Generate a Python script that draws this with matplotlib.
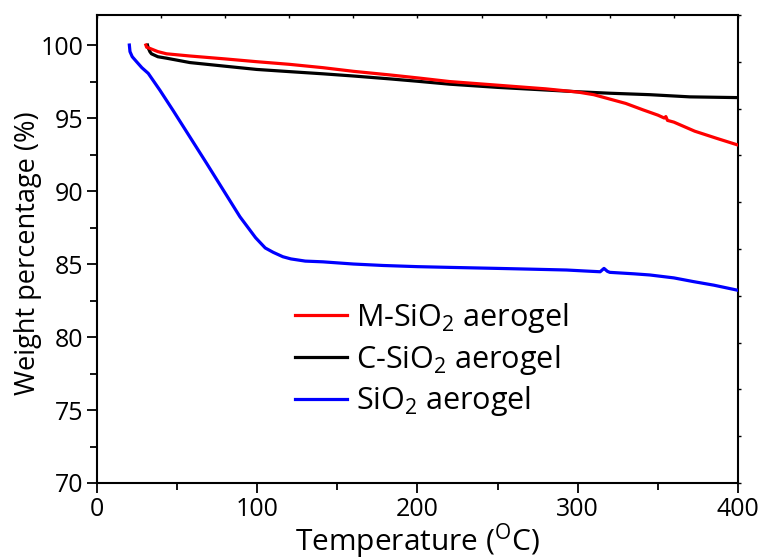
import matplotlib
matplotlib.use("Agg")
import matplotlib.pyplot as plt
from matplotlib import font_manager as fm
import numpy as np

avail = {f.name for f in fm.fontManager.ttflist}
fam = next((f for f in ["Liberation Sans Narrow", "Open Sans", "Lato", "DejaVu Sans"] if f in avail), "DejaVu Sans")
plt.rcParams['font.family'] = [fam, 'DejaVu Sans']
plt.rcParams['mathtext.fontset'] = 'custom'
plt.rcParams['mathtext.rm'] = fam
plt.rcParams['mathtext.it'] = fam
plt.rcParams['mathtext.bf'] = fam

# SiO2 aerogel (blue)
t_sio2 = [20.2, 20.6, 22, 24.7, 28, 32, 39.3, 47.6, 58, 68.4, 78.8, 89.2, 99, 105, 110, 116, 121,
          130, 141, 160, 178.6, 200, 220, 250, 270, 293, 305, 314, 316.4, 318.5, 320, 335, 345,
          360, 372, 385, 400]
w_sio2 = [100.0, 99.55, 99.2, 98.86, 98.45, 98.06, 96.9, 95.5, 93.7, 91.9, 90.07, 88.24, 86.8,
          86.1, 85.8, 85.5, 85.35, 85.2, 85.15, 85.0, 84.9, 84.82, 84.77, 84.7, 84.65, 84.59,
          84.52, 84.47, 84.7, 84.5, 84.43, 84.33, 84.25, 84.05, 83.8, 83.55, 83.2]

# M-SiO2 aerogel (red)
t_m = [30.5, 31, 33, 38, 43.4, 58, 80, 99.6, 120, 141, 160, 183, 200, 220, 250, 280, 300, 310,
       318, 330, 341, 350, 354, 355, 356, 360, 373, 387, 400]
w_m = [100.0, 99.85, 99.77, 99.55, 99.4, 99.25, 99.05, 98.86, 98.68, 98.45, 98.2, 97.95, 97.75,
       97.5, 97.25, 97.0, 96.78, 96.6, 96.36, 96.0, 95.55, 95.2, 95.0, 95.1, 94.84, 94.72,
       94.1, 93.6, 93.15]

# C-SiO2 aerogel (black)
t_c = [31.5, 32, 33, 34, 38, 43.4, 58, 80, 99.6, 120, 141, 160, 183, 200, 220, 250, 280, 300,
       320, 345, 370, 400]
w_c = [100.0, 99.8, 99.55, 99.4, 99.2, 99.1, 98.8, 98.55, 98.33, 98.18, 98.03, 97.88, 97.68,
       97.52, 97.32, 97.1, 96.92, 96.8, 96.7, 96.6, 96.45, 96.4]

labels = ['M-SiO$_2$ aerogel', 'C-SiO$_2$ aerogel', 'SiO$_2$ aerogel']
colors = ['#ff0000', '#000000', '#0000ff']
x_ticks = [0, 100, 200, 300, 400]
y_ticks = [70, 75, 80, 85, 90, 95, 100]

fig = plt.figure(figsize=(7.66, 5.6), dpi=100)
ax = fig.add_axes([0.1266, 0.1375, 0.8368, 0.8355])

ax.plot(t_m, w_m, color=colors[0], lw=2.3, label=labels[0], zorder=3)
ax.plot(t_c, w_c, color=colors[1], lw=2.3, label=labels[1], zorder=2)
ax.plot(t_sio2, w_sio2, color=colors[2], lw=2.3, label=labels[2], zorder=4)

ax.set_xlim(0, 400)
ax.set_ylim(70, 102.05)
ax.set_xticks(x_ticks)
ax.set_yticks(y_ticks)
ax.set_xticks([50, 150, 250, 350], minor=True)
ax.set_yticks([72.5, 77.5, 82.5, 87.5, 92.5, 97.5], minor=True)
ax.tick_params(which='major', direction='out', length=7, width=1.3, labelsize=18, pad=3)
ax.tick_params(which='minor', direction='out', length=5, width=1.3)
for s in ax.spines.values():
    s.set_linewidth(1.5)

ax.set_xlabel('Temperature ($^{\\mathrm{O}}$C)', fontsize=21.5, labelpad=0)
ax.set_ylabel('Weight percentage (%)', fontsize=19.5)
ax.yaxis.set_label_coords(-0.085, 0.491)

# small ticks on top and right spines
axr = ax.twinx()
axr.set_ylim(0, 10)
axr.set_yticks(np.arange(11))
axr.tick_params(axis='y', direction='out', length=2.5, width=1, labelright=False)
axt = ax.twiny()
axt.set_xlim(0, 10)
axt.set_xticks(np.arange(11))
axt.tick_params(axis='x', direction='in', length=2.5, width=1, labeltop=False)
for a in (axr, axt):
    for s in a.spines.values():
        s.set_visible(False)

leg = ax.legend(loc='upper left', bbox_to_anchor=(0.29, 0.415), frameon=False, fontsize=22,
                handlelength=1.7, handletextpad=0.3, labelspacing=0.25, borderaxespad=0)
for l in leg.get_lines():
    l.set_linewidth(2.3)

fig.savefig('out.png', dpi=100)
